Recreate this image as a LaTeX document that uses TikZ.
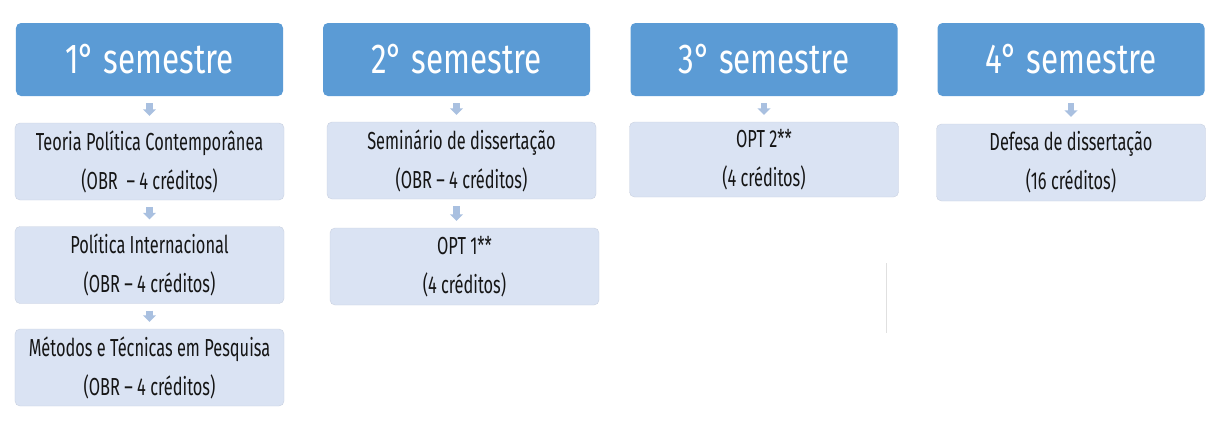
\documentclass[tikz,border=0pt]{standalone}
\usepackage{fontspec}
\usetikzlibrary{arrows.meta}
\newfontfamily\hfont[FakeStretch=0.75]{Fira Sans}
\newfontfamily\bfont[FakeStretch=0.665]{Fira Sans}
\definecolor{hblue}{HTML}{5B9BD5}
\definecolor{lblue}{HTML}{DAE3F3}
\definecolor{ablue}{HTML}{A9C0E0}
\definecolor{txt}{HTML}{151515}
\tikzset{
  head/.style={fill=hblue, rounded corners=5bp, minimum width=267bp, minimum height=73bp,
    inner sep=0pt, text=white, font=\hfont\fontsize{42}{50}\selectfont},
  course/.style={fill=lblue, draw=lblue!92!black, line width=0.4bp, rounded corners=5bp, minimum width=269bp, minimum height=77bp,
    inner sep=0pt, align=center, text=txt, font=\bfont\fontsize{24.7}{39}\selectfont},
  flow/.style={draw=ablue, line width=6.5bp, -{Triangle[width=13bp,length=6.5bp]}, shorten <=7bp, shorten >=7bp},
  faint/.style={draw=black!12, line width=0.8bp}
}
\begin{document}
\begin{tikzpicture}[x=1bp,y=-1bp]
\useasboundingbox (0,0) rectangle (1222,424);
% headers
\node[head] (h1) at (149.5,59.5) {1° semestre};
\node[head] (h2) at (456.5,59.5) {2° semestre};
\node[head] (h3) at (764,59.5) {3° semestre};
\node[head] (h4) at (1071,59.5) {4° semestre};
% column 1
\node[course] (b11) at (149.5,161.5) {Teoria Política Contemporânea\\(OBR\ \ – 4 créditos)};
\node[course] (b12) at (149.5,265) {Política Internacional\\(OBR – 4 créditos)};
\node[course] (b13) at (149.5,367.5) {Métodos e Técnicas em Pesquisa\\(OBR – 4 créditos)};
% column 2
\node[course] (b21) at (461.5,160.5) {Seminário de dissertação\\(OBR – 4 créditos)};
\node[course] (b22) at (464.5,266.5) {OPT 1**\\(4 créditos)};
% column 3
\node[course, minimum height=75bp] (b31) at (764,159.5) {OPT 2**\\(4 créditos)};
% column 4
\node[course] (b41) at (1071,162.5) {Defesa de dissertação\\(16 créditos)};
% arrows
\draw[flow] (h1.south) -- (h1.south |- b11.north);
\draw[flow] (b11.south) -- (b11.south |- b12.north);
\draw[flow] (b12.south) -- (b12.south |- b13.north);
\draw[flow] (h2.south) -- (h2.south |- b21.north);
\draw[flow] (h2.south |- b21.south) -- (h2.south |- b22.north);
\draw[flow] (h3.south) -- (h3.south |- b31.north);
\draw[flow] (h4.south) -- (h4.south |- b41.north);
% faint mark
\coordinate (m1) at (886,263);
\coordinate (m2) at (886,333);
\draw[faint] (m1) -- (m2);
\end{tikzpicture}
\end{document}
